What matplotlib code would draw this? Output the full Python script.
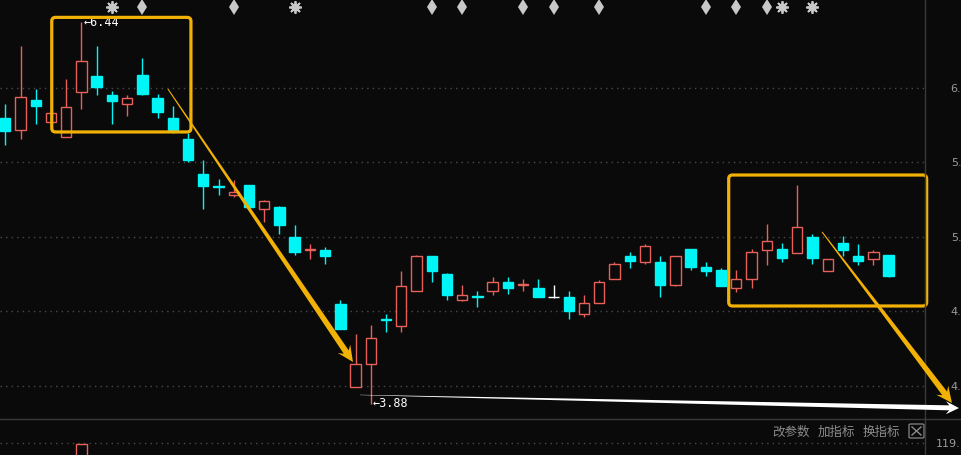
import matplotlib
matplotlib.use('Agg')
import matplotlib.pyplot as plt
import numpy as np
from matplotlib.patches import FancyBboxPatch, Polygon
from matplotlib.lines import Line2D
from matplotlib.transforms import IdentityTransform

# daily K-line values
opens = [5.80, 5.72, 5.92, 5.77, 5.67, 5.97, 6.08, 5.95, 5.89, 6.09,
         5.93, 5.80, 5.66, 5.42, 5.34, 5.28, 5.35, 5.19, 5.20, 5.00,
         4.915, 4.91, 4.55, 3.99, 4.15, 4.45, 4.40, 4.64, 4.87, 4.75,
         4.58, 4.605, 4.64, 4.70, 4.68, 4.66, 4.60, 4.60, 4.48, 4.56,
         4.72, 4.87, 4.83, 4.83, 4.68, 4.92, 4.80, 4.78, 4.66, 4.72,
         4.91, 4.92, 4.89, 5.00, 4.77, 4.96, 4.87, 4.85, 4.88]
highs = [5.89, 6.28, 5.99, 5.83, 6.06, 6.44, 6.28, 5.98, 5.95, 6.20,
         5.96, 5.88, 5.70, 5.52, 5.39, 5.38, 5.35, 5.25, 5.21, 5.08,
         4.95, 4.93, 4.58, 4.35, 4.41, 4.48, 4.77, 4.88, 4.87, 4.76,
         4.68, 4.64, 4.73, 4.73, 4.72, 4.72, 4.68, 4.64, 4.61, 4.71,
         4.83, 4.90, 4.95, 4.87, 4.87, 4.92, 4.83, 4.79, 4.78, 4.92,
         5.09, 4.96, 5.35, 5.02, 4.85, 5.01, 4.95, 4.91, 4.88]
lows = [5.62, 5.66, 5.76, 5.77, 5.67, 5.86, 5.95, 5.76, 5.81, 5.95,
        5.80, 5.70, 5.50, 5.19, 5.28, 5.27, 5.20, 5.10, 5.02, 4.88,
        4.85, 4.82, 4.38, 3.99, 3.88, 4.36, 4.36, 4.64, 4.70, 4.58,
        4.57, 4.53, 4.61, 4.62, 4.64, 4.60, 4.59, 4.45, 4.46, 4.56,
        4.72, 4.79, 4.82, 4.60, 4.67, 4.78, 4.74, 4.67, 4.63, 4.66,
        4.81, 4.83, 4.89, 4.82, 4.77, 4.87, 4.81, 4.81, 4.73]
closes = [5.71, 5.94, 5.88, 5.83, 5.87, 6.18, 6.01, 5.91, 5.93, 5.96,
          5.84, 5.72, 5.52, 5.34, 5.335, 5.30, 5.20, 5.24, 5.08, 4.90,
          4.92, 4.87, 4.38, 4.15, 4.32, 4.445, 4.67, 4.87, 4.77, 4.61,
          4.61, 4.60, 4.70, 4.66, 4.685, 4.60, 4.60, 4.50, 4.56, 4.70,
          4.82, 4.84, 4.94, 4.68, 4.87, 4.80, 4.77, 4.67, 4.72, 4.90,
          4.97, 4.86, 5.07, 4.86, 4.85, 4.91, 4.84, 4.90, 4.74]

# the price scale is cut by the window edge, only the first digits show
price_ticks = [4.0, 4.5, 5.0, 5.5, 6.0]
price_labels = ['4.', '4.', '5.', '5.', '6.']

# signal markers along the top
star_days = [7, 19, 51, 53]
updown_days = [9, 15, 28, 30, 34, 36, 39, 46, 48, 50]

# lower panel: only one volume bar reaches into view
vol_days = [5]
vol_values = [118.75]
vol_ticks = [119.0]
vol_labels = ['119.']

buttons = ['改参数', '加指标', '换指标']

BG = '#0a0a0a'
RED = '#e8605a'
CYAN = '#00f6f6'
GOLD = '#f2b105'
GRID = '#4a4a4a'
LABEL = '#9a9a9a'

W, H = 962, 455
fig = plt.figure(figsize=(W / 100, H / 100), dpi=100, facecolor=BG)
ax = fig.add_axes([0, 36 / H, 925 / W, 419 / H], facecolor=BG)
ax2 = fig.add_axes([0, 0, 925 / W, 36 / H], facecolor=BG)

xlim = (-0.348, 60.39)
ax.set_xlim(*xlim)
ax.set_ylim(3.7785, 6.5906)

x = np.arange(len(opens))
o = np.array(opens)
c = np.array(closes)
cols = np.where(c > o, RED, np.where(c < o, CYAN, 'white'))
faces = [BG if col == RED else col for col in cols]

ax.vlines(x, lows, highs, colors=cols, lw=1, zorder=2)
ax.bar(x, np.abs(c - o), bottom=np.minimum(o, c), width=0.68, color=faces,
       edgecolor=cols, linewidth=1, zorder=3)

for a in (ax, ax2):
    for s in a.spines.values():
        s.set_visible(False)
    a.set_xticks([])
    a.yaxis.tick_right()
    a.grid(axis='y', color=GRID, linestyle=(0, (1, 3)), lw=1)
    a.set_axisbelow(True)

ax.set_yticks(price_ticks)
ax.set_yticklabels(price_labels)
ax.tick_params(axis='y', length=0, pad=18.5, colors=LABEL, labelsize=8)

# top signal markers
tr = ax.get_xaxis_transform()
ax.plot(star_days, [0.983] * len(star_days), transform=tr, ls='none',
        marker=(8, 2, 0), ms=9, mew=1.3, color='#c8c8c8', clip_on=False)
ax.plot(star_days, [0.983] * len(star_days), transform=tr, ls='none',
        marker='o', ms=5, color='#c8c8c8', clip_on=False)
ax.plot(updown_days, [0.983] * len(updown_days), transform=tr, ls='none',
        marker='d', ms=8, color='#c8c8c8', mew=0, clip_on=False)

# high / low labels
hi = int(np.argmax(highs))
lo = int(np.argmin(lows))
ax.annotate(f'←{highs[hi]:.2f}', (hi, highs[hi]), xytext=(1.5, 0),
            textcoords='offset points', va='center', ha='left',
            color='white', fontsize=8.5, family='DejaVu Sans Mono')
ax.annotate(f'←{lows[lo]:.2f}', (lo, lows[lo]), xytext=(1.5, 0),
            textcoords='offset points', va='center', ha='left',
            color='white', fontsize=8.5, family='DejaVu Sans Mono')

# highlight boxes
aspect = (ax.get_ylim()[1] - ax.get_ylim()[0]) / 419 / ((xlim[1] - xlim[0]) / 925)
for (x0, x1, y0, y1) in [(3.05, 12.19, 5.705, 6.474), (47.5, 60.5, 4.537, 5.416)]:
    ax.add_patch(FancyBboxPatch((x0, y0), x1 - x0, y1 - y0,
                                boxstyle='round,pad=0,rounding_size=0.25',
                                mutation_aspect=aspect, fill=False,
                                edgecolor=GOLD, lw=2.3, zorder=5, clip_on=False))


def taper_arrow(start, end, color, w0, w1, head_len, head_w):
    p0 = ax.transData.transform(start)
    p1 = ax.transData.transform(end)
    d = p1 - p0
    u = d / np.hypot(*d)
    n = np.array([-u[1], u[0]])
    join = p1 - u * head_len * 0.75
    barb = p1 - u * head_len
    pts = [p0 + n * w0 / 2, join + n * w1 / 2, barb + n * head_w / 2, p1,
           barb - n * head_w / 2, join - n * w1 / 2, p0 - n * w0 / 2]
    fig.add_artist(Polygon(pts, closed=True, transform=IdentityTransform(),
                           facecolor=color, edgecolor='none', zorder=10))


taper_arrow((10.68, 5.993), (22.83, 4.161), GOLD, 1.0, 6, 16, 15)
taper_arrow((53.63, 5.034), (62.16, 3.886), GOLD, 1.0, 6, 16, 15)
taper_arrow((23.29, 3.940), (62.62, 3.852), 'white', 0.3, 5, 13, 13)

# lower panel
ax2.set_xlim(*xlim)
ax2.set_ylim(116, 125)
ax2.bar(vol_days, vol_values, width=0.68, color=BG, edgecolor=RED, linewidth=1)
ax2.set_yticks(vol_ticks)
ax2.set_yticklabels(vol_labels)
ax2.tick_params(axis='y', length=0, pad=7.5, colors=LABEL, labelsize=8)

for cx, txt in zip([791.5, 836.5, 881.5], buttons):
    fig.text(cx / W, 1 - 432 / H, txt, ha='center', va='center', color='#8c8c8c',
             fontsize=9, family=['Noto Sans CJK SC', 'DejaVu Sans'])
fig.add_artist(FancyBboxPatch((909 / W, 1 - 438 / H), 15 / W, 14 / H,
                              boxstyle='round,pad=0,rounding_size=0.002',
                              fill=False, edgecolor='#7a7a7a', lw=1))
fig.add_artist(Line2D([912 / W, 921 / W], [1 - 427 / H, 1 - 435 / H], color='#8c8c8c', lw=1))
fig.add_artist(Line2D([912 / W, 921 / W], [1 - 435 / H, 1 - 427 / H], color='#8c8c8c', lw=1))

# panel separators
fig.add_artist(Line2D([925.5 / W] * 2, [0, 1], color='#3a3a3a', lw=1, zorder=1))
fig.add_artist(Line2D([0, 1], [36 / H] * 2, color='#3a3a3a', lw=1, zorder=1))

fig.savefig('out.png', dpi=100, facecolor=BG)
